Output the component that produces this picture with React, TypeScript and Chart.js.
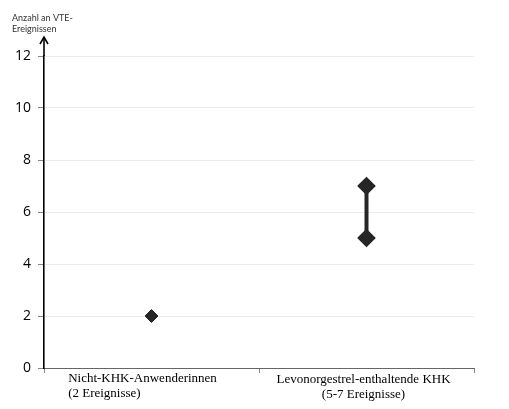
import React, { useEffect, useRef } from "react";
import { Chart, registerables } from "chart.js";

Chart.register(...registerables);

const categories: string[] = ["Nicht-KHK-Anwenderinnen", "Levonorgestrel-enthaltende KHK"];
const categoryNotes: string[] = ["(2 Ereignisse)", "(5-7 Ereignisse)"];
const nonUserEvents: number[] = [2];
const levoRange: number[] = [5, 7];
const yTicks: number[] = [0, 2, 4, 6, 8, 10, 12];
const yTitle: string[] = ["Anzahl an VTE-", "Ereignissen"];

const decorPlugin = {
  id: "decor",
  afterDraw(chart: any) {
    const ctx = chart.ctx;
    const area = chart.chartArea;
    const x = area.left;
    ctx.save();
    // axis arrow
    ctx.strokeStyle = "#000";
    ctx.lineWidth = 1.6;
    ctx.beginPath();
    ctx.moveTo(x, area.top);
    ctx.lineTo(x, area.top - 18);
    ctx.stroke();
    ctx.beginPath();
    ctx.moveTo(x - 4, area.top - 12);
    ctx.lineTo(x, area.top - 19);
    ctx.lineTo(x + 4, area.top - 12);
    ctx.stroke();
    // axis title
    ctx.fillStyle = "#333";
    ctx.font = "9px Lato";
    ctx.textBaseline = "middle";
    ctx.textAlign = "left";
    yTitle.forEach((t, i) => ctx.fillText(t, 12, 18 + i * 11));
    // category labels
    const xs = chart.scales.x;
    ctx.fillStyle = "#000";
    ctx.font = "13px 'Liberation Serif'";
    categories.forEach((c, i) => {
      const cx = xs.getPixelForValue(i);
      const lines = [c, categoryNotes[i]];
      if (i === 0) {
        ctx.textAlign = "left";
        const w = ctx.measureText(c).width;
        const lx = cx - 9 - w / 2;
        lines.forEach((l, j) => ctx.fillText(l, lx, area.bottom + 11 + j * 15));
      } else {
        ctx.textAlign = "center";
        lines.forEach((l, j) => ctx.fillText(l, cx - 3, area.bottom + 12 + j * 15));
      }
    });
    ctx.restore();
  },
};

export default function App() {
  const ref = useRef<HTMLCanvasElement | null>(null);
  useEffect(() => {
    if (!ref.current) return;
    const chart = new Chart(ref.current, {
      type: "line",
      data: {
        labels: categories,
        datasets: [
          {
            data: nonUserEvents.map((v) => ({ x: categories[0], y: v })),
            showLine: false,
            pointStyle: "rectRot",
            pointRadius: 6.5,
            pointBackgroundColor: "#262626",
            pointBorderColor: "#262626",
          },
          {
            data: levoRange.map((v) => ({ x: categories[1], y: v })),
            showLine: true,
            borderColor: "#262626",
            borderWidth: 4,
            pointStyle: "rectRot",
            pointRadius: 6.5,
            pointBackgroundColor: "#262626",
            pointBorderColor: "#262626",
          },
        ] as any,
      },
      options: {
        animation: false,
        responsive: false,
        layout: { padding: { top: 56, right: 35, left: 0, bottom: 0 } },
        plugins: { legend: { display: false }, tooltip: { enabled: false } },
        scales: {
          x: {
            type: "category",
            offset: true,
            border: { color: "#666", width: 1 },
            grid: { offset: true, drawOnChartArea: false, drawTicks: true, tickLength: 5, tickColor: "#888" },
            ticks: { display: false },
            afterFit(scale: any) {
              scale.height = 41;
            },
          },
          y: {
            min: 0,
            max: 12,
            afterBuildTicks(scale: any) {
              scale.ticks = yTicks.map((v) => ({ value: v }));
            },
            border: { color: "#000", width: 1.6 },
            grid: { color: "#ebebeb", tickColor: "#888", tickLength: 6 },
            ticks: {
              color: "#000",
              font: { family: "'Open Sans'", size: 14 },
              padding: 7,
            },
            afterFit(scale: any) {
              scale.width = 44;
            },
          },
        },
      },
      plugins: [decorPlugin],
    });
    return () => chart.destroy();
  }, []);
  return (
    <div style={{ position: "fixed", left: 0, top: 0, width: 509, height: 409, background: "#fff" }}>
      <canvas ref={ref} width={509} height={409} style={{ width: 509, height: 409 }} />
    </div>
  );
}
